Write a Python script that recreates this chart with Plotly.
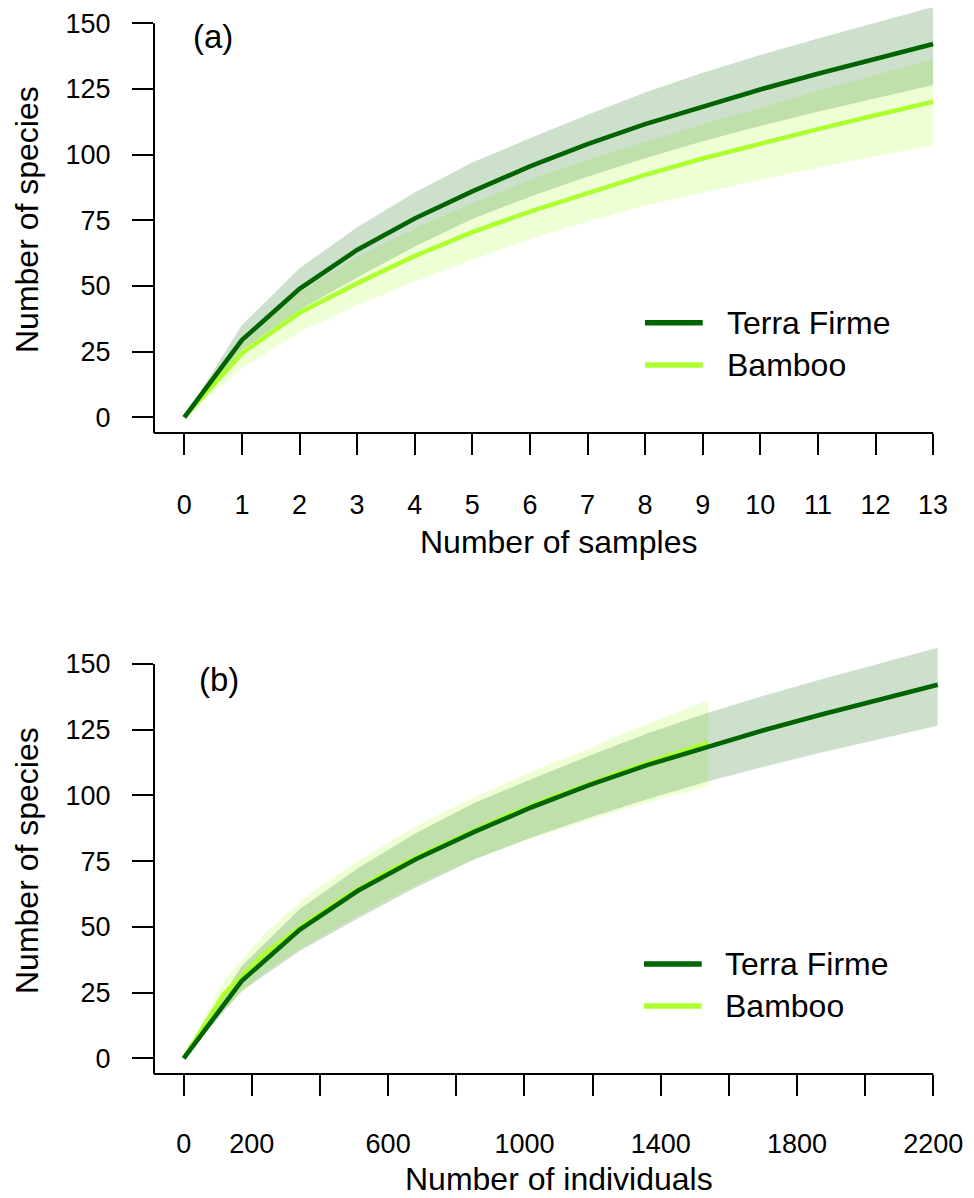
import plotly.graph_objects as go

# ---------------- data ----------------
samples = [0, 1, 2, 3, 4, 5, 6, 7, 8, 9, 10, 11, 12, 13]
tf_individuals = [0, 170, 340, 511, 681, 851, 1021, 1192, 1362, 1532, 1702, 1872, 2043, 2213]
bb_individuals = [0, 118, 237, 355, 474, 592, 711, 829, 948, 1066, 1185, 1303, 1422, 1540]

tf_mean = [0, 29.4, 48.9, 63.7, 75.7, 86.0, 95.5, 104.0, 111.6, 118.4, 124.8, 130.8, 136.5, 142.1]
tf_upper = [0, 35.1, 56.7, 72.3, 85.6, 97.0, 106.2, 115.2, 123.6, 131.2, 137.9, 144.2, 150.2, 156.2]
tf_lower = [0, 25.6, 40.8, 53.2, 65.0, 75.5, 84.0, 91.6, 98.6, 105.1, 110.9, 116.3, 121.4, 126.5]

bb_mean = [0, 24.4, 39.8, 51.0, 61.4, 70.5, 78.3, 85.5, 92.3, 98.5, 104.2, 109.7, 115.0, 120.1]
bb_upper = [0, 29.5, 47.5, 61.1, 72.0, 81.5, 90.3, 97.9, 104.9, 111.6, 117.6, 124.3, 130.3, 136.3]
bb_lower = [0, 18.6, 32.6, 42.7, 51.6, 60.0, 67.8, 74.5, 80.5, 85.6, 90.3, 95.0, 99.5, 103.5]

y_ticks = [0, 25, 50, 75, 100, 125, 150]
ind_ticks = [0, 200, 400, 600, 800, 1000, 1200, 1400, 1600, 1800, 2000, 2200]
ind_ticktext = ["0", "200", "", "600", "", "1000", "", "1400", "", "1800", "", "2200"]
series_names = ["Terra Firme", "Bamboo"]

# ---------------- styling ----------------
FONT = "Liberation Sans, Arial, sans-serif"
TF_COL = "#006400"
BB_COL = "#ADFF2F"
TF_FILL = "rgba(0,100,0,0.2)"
BB_FILL = "rgba(173,255,47,0.2)"
W, H = 974, 1198

fig = go.Figure()


def band(x, lo, hi, color, xa, ya):
    fig.add_trace(go.Scatter(
        x=list(x) + list(x)[::-1], y=list(hi) + list(lo)[::-1],
        fill="toself", fillcolor=color, line=dict(width=0), mode="lines",
        hoverinfo="skip", xaxis=xa, yaxis=ya, showlegend=False))


def curve(x, y, color, name, xa, ya):
    fig.add_trace(go.Scatter(
        x=x, y=y, mode="lines", name=name,
        line=dict(color=color, width=4.6), xaxis=xa, yaxis=ya, showlegend=False))


# panel (a): samples
band(samples, bb_lower, bb_upper, BB_FILL, "x", "y")
band(samples, tf_lower, tf_upper, TF_FILL, "x", "y")
curve(samples, bb_mean, BB_COL, series_names[1], "x", "y")
curve(samples, tf_mean, TF_COL, series_names[0], "x", "y")

# panel (b): individuals
band(bb_individuals, bb_lower, bb_upper, BB_FILL, "x2", "y2")
band(tf_individuals, tf_lower, tf_upper, TF_FILL, "x2", "y2")
curve(bb_individuals, bb_mean, BB_COL, series_names[1], "x2", "y2")
curve(tf_individuals, tf_mean, TF_COL, series_names[0], "x2", "y2")

xdom = [154 / W, 963 / W]
ydom_a = [1 - 433.06 / H, 1 - 7.5 / H]
ydom_b = [1 - 1074.07 / H, 1 - 648.2 / H]
xr_a = [-0.526, 13.519]
xr_b = [-87.2, 2287.3]
yr = [-6, 156]

common = dict(showgrid=False, zeroline=False, showline=False, ticks="outside",
              ticklen=21, tickwidth=2, tickcolor="black", automargin=False,
              tickfont=dict(family=FONT, size=27, color="black"))

fig.update_layout(
    width=W, height=H, margin=dict(l=0, r=0, t=0, b=0),
    paper_bgcolor="white", plot_bgcolor="white", showlegend=False,
    font=dict(family=FONT, color="black"),
    xaxis=dict(domain=xdom, range=xr_a, anchor="y",
               tickmode="array", tickvals=samples, ticktext=[str(s) for s in samples],
               ticklabelstandoff=27, **common),
    yaxis=dict(domain=ydom_a, range=yr, anchor="x",
               tickmode="array", tickvals=y_ticks, ticklabelstandoff=16, **common),
    xaxis2=dict(domain=xdom, range=xr_b, anchor="y2",
                tickmode="array", tickvals=ind_ticks, ticktext=ind_ticktext,
                ticklabelstandoff=25, **common),
    yaxis2=dict(domain=ydom_b, range=yr, anchor="x2",
                tickmode="array", tickvals=y_ticks, ticklabelstandoff=16, **common),
)

shapes = []
for xa, ya, xmin, xmax in (("x", "y", xr_a[0], samples[-1]), ("x2", "y2", xr_b[0], ind_ticks[-1])):
    # L-shaped axis lines (left line up to the top tick, bottom line up to the last tick)
    shapes.append(dict(type="line", xref=f"{xa} domain", yref=ya, x0=0, x1=0,
                       y0=yr[0], y1=y_ticks[-1], line=dict(color="black", width=2)))
    shapes.append(dict(type="line", xref=xa, yref=f"{ya} domain", x0=xmin,
                       x1=xmax, y0=0, y1=0, line=dict(color="black", width=2)))

# legends drawn as shapes + text
annotations = []
for xa, ya, leg_x0, leg_x1, txt_x, ys in (
        ("x", "y", 0.6069, 0.6783, 0.7060, (0.2593, 0.1599)),
        ("x2", "y2", 0.6057, 0.6770, 0.7030, (0.2585, 0.1598))):
    for name, col, yy in zip(series_names, (TF_COL, BB_COL), ys):
        shapes.append(dict(type="line", xref=f"{xa} domain", yref=f"{ya} domain",
                           x0=leg_x0, x1=leg_x1, y0=yy, y1=yy,
                           line=dict(color=col, width=5.6)))
        annotations.append(dict(text=name, xref=f"{xa} domain", yref=f"{ya} domain",
                                x=txt_x, y=yy, xanchor="left", yanchor="middle",
                                showarrow=False, font=dict(family=FONT, size=32, color="black")))

# panel labels
annotations.append(dict(text="(a)", xref="paper", yref="paper", x=213.3 / W, y=1 - 37 / H,
                        xanchor="center", yanchor="middle", showarrow=False,
                        font=dict(family=FONT, size=33, color="black")))
annotations.append(dict(text="(b)", xref="paper", yref="paper", x=218.5 / W, y=1 - 679 / H,
                        xanchor="center", yanchor="middle", showarrow=False,
                        font=dict(family=FONT, size=33, color="black")))

# axis titles
for txt, x, y, ang in (("Number of species", 27 / W, 1 - 220 / H, -90),
                       ("Number of species", 27 / W, 1 - 861 / H, -90),
                       ("Number of samples", 558.5 / W, 1 - 542 / H, 0),
                       ("Number of individuals", 558.5 / W, 1 - 1179 / H, 0)):
    annotations.append(dict(text=txt, xref="paper", yref="paper", x=x, y=y,
                            xanchor="center", yanchor="middle", textangle=ang,
                            showarrow=False, font=dict(family=FONT, size=32, color="black")))

fig.update_layout(shapes=shapes, annotations=annotations)
fig.write_html("out.html")
